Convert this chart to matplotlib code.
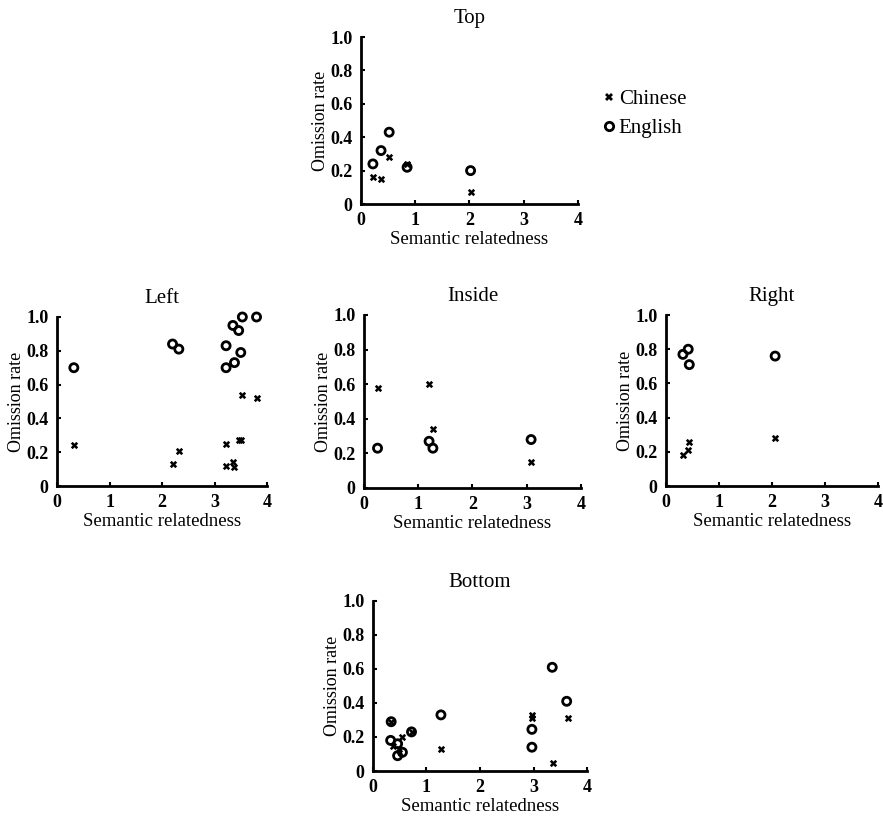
import matplotlib.pyplot as plt
from matplotlib.lines import Line2D

plt.rcParams['font.family'] = ['Liberation Serif', 'DejaVu Serif']

# relatedness / omission rate per panel, (Chinese, English)
top_x = [0.22, 0.37, 0.52, 0.85, 2.02]
top_zh = [0.16, 0.15, 0.28, 0.24, 0.07]
top_en = [0.24, 0.32, 0.43, 0.22, 0.20]

left_x = [0.32, 2.20, 2.32, 3.22, 3.22, 3.35, 3.38, 3.46, 3.50, 3.53, 3.80]
left_zh = [0.24, 0.13, 0.21, 0.25, 0.12, 0.14, 0.11, 0.27, 0.27, 0.54, 0.52]
left_en = [0.70, 0.84, 0.81, 0.83, 0.70, 0.95, 0.73, 0.92, 0.79, 1.00, 1.00]

inside_x = [0.25, 1.20, 1.27, 3.08]
inside_zh = [0.58, 0.60, 0.34, 0.15]
inside_en = [0.23, 0.27, 0.23, 0.28]

right_x = [0.32, 0.42, 0.44, 2.06]
right_zh = [0.18, 0.21, 0.26, 0.28]
right_en = [0.77, 0.80, 0.71, 0.76]

bottom_zh_x = [0.34, 0.72, 0.37, 0.55, 0.48, 1.27, 2.98, 2.98, 3.64, 3.37]
bottom_zh = [0.29, 0.23, 0.15, 0.20, 0.13, 0.13, 0.33, 0.31, 0.31, 0.045]
bottom_en_x = [0.34, 0.72, 0.33, 0.46, 0.46, 0.55, 1.27, 3.35, 3.62, 2.97, 2.97]
bottom_en = [0.29, 0.23, 0.18, 0.16, 0.09, 0.11, 0.33, 0.61, 0.41, 0.245, 0.14]

panels = [
    ("Top", [0.4088, 0.7503, 0.2458, 0.2044], top_x, top_zh, top_x, top_en),
    ("Left", [0.0646, 0.4051, 0.2378, 0.2069], left_x, left_zh, left_x, left_en),
    ("Inside", [0.4122, 0.4027, 0.2458, 0.2118], inside_x, inside_zh, inside_x, inside_en),
    ("Right", [0.7542, 0.4051, 0.2401, 0.2093], right_x, right_zh, right_x, right_en),
    ("Bottom", [0.4224, 0.0563, 0.2424, 0.2081], bottom_zh_x, bottom_zh, bottom_en_x, bottom_en),
]

zh_style = dict(marker='X', s=28, color='black', linewidths=0)
en_style = dict(marker='o', s=34, facecolors='none', edgecolors='black', linewidths=2)

fig = plt.figure(figsize=(8.83, 8.17), dpi=100)

for title, rect, zx, zy, ex, ey in panels:
    ax = fig.add_axes(rect)
    ax.scatter(zx, zy, clip_on=False, zorder=3, **zh_style)
    ax.scatter(ex, ey, clip_on=False, zorder=3, **en_style)
    ax.set_xlim(0, 4)
    ax.set_ylim(0, 1)
    ax.set_xticks([0, 1, 2, 3, 4])
    ax.set_yticks([0, 0.2, 0.4, 0.6, 0.8, 1.0])
    ax.set_yticklabels(['0', '0.2', '0.4', '0.6', '0.8', '1.0'])
    for lab in ax.get_xticklabels() + ax.get_yticklabels():
        lab.set_fontweight('bold')
    ax.tick_params(direction='in', length=3, width=1.5, labelsize=13)
    ax.tick_params(axis='x', pad=6)
    ax.tick_params(axis='y', pad=6)
    ax.spines['top'].set_visible(False)
    ax.spines['right'].set_visible(False)
    ax.spines['left'].set_linewidth(2)
    ax.spines['bottom'].set_linewidth(2)
    ax.set_title(title, fontsize=15, pad=10)
    ax.set_xlabel("Semantic relatedness", fontsize=13.5, labelpad=1)
    ax.set_ylabel("Omission rate", fontsize=13, labelpad=1)

handles = [
    Line2D([], [], linestyle='none', marker='X', markersize=6, color='black', markeredgewidth=0),
    Line2D([], [], linestyle='none', marker='o', markersize=6, markerfacecolor='none',
           markeredgecolor='black', markeredgewidth=2),
]
fig.legend(handles, ["Chinese", "English"], loc='upper left', bbox_to_anchor=(0.663, 0.913),
           frameon=False, fontsize=15, handlelength=0.5, handletextpad=0.2, labelspacing=0.45)

fig.savefig("out.png", dpi=100)
